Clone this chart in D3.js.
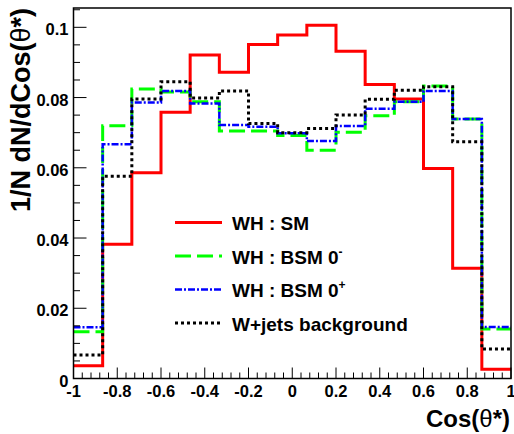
<!DOCTYPE html>
<html><head><meta charset="utf-8">
<script src="https://cdn.jsdelivr.net/npm/d3@7"></script>
<style>body{margin:0;background:#fff}svg{display:block}</style>
</head><body><svg id="c" width="514" height="434"></svg>
<script>
// Bin edges (15 bins over [-1,1])
const binEdges = [-1, -0.8667, -0.7333, -0.6, -0.4667, -0.3333, -0.2, -0.0667, 0.0667, 0.2, 0.3333, 0.4667, 0.6, 0.7333, 0.8667, 1];
const smValues   = [0.0036, 0.0382, 0.0586, 0.0758, 0.0921, 0.0872, 0.0951, 0.0978, 0.1006, 0.0932, 0.0837, 0.0796, 0.0598, 0.0314, 0.0026];
const bsmMinus   = [0.0133, 0.0720, 0.0824, 0.0816, 0.0788, 0.0705, 0.0705, 0.0692, 0.0650, 0.0701, 0.0748, 0.0788, 0.0833, 0.0739, 0.0141];
const bsmPlus    = [0.0146, 0.0667, 0.0786, 0.0819, 0.0783, 0.0722, 0.0717, 0.0698, 0.0676, 0.0719, 0.0768, 0.0788, 0.0819, 0.0739, 0.0147];
const wjets      = [0.0067, 0.0576, 0.0796, 0.0845, 0.0799, 0.0819, 0.0726, 0.0700, 0.0712, 0.0750, 0.0795, 0.0821, 0.0831, 0.0674, 0.0084];
const xTicks = [-1, -0.8, -0.6, -0.4, -0.2, 0, 0.2, 0.4, 0.6, 0.8, 1];
const xTickLabels = ["-1", "-0.8", "-0.6", "-0.4", "-0.2", "0", "0.2", "0.4", "0.6", "0.8", "1"];
const yTicks = [0, 0.02, 0.04, 0.06, 0.08, 0.1];
const yTickLabels = ["0", "0.02", "0.04", "0.06", "0.08", "0.1"];
const legendLabels = [["WH : SM", ""], ["WH : BSM 0", "-"], ["WH : BSM 0", "+"], ["W+jets background", ""]];

const svg = d3.select("#c");
const L = 73.5, R = 511, T = 8, B = 378.5;
const x = d3.scaleLinear().domain([-1, 1]).range([L, R]);
const y = d3.scaleLinear().domain([0, 0.1055]).range([B, T]);
const FONT = "'Liberation Sans', Arial, Helvetica, sans-serif";

const series = [
  {vals: smValues, color: "#ff0000", width: 3, dash: null},
  {vals: bsmMinus, color: "#00ff00", width: 3, dash: "16,6"},
  {vals: bsmPlus, color: "#0000ff", width: 2.5, dash: "7,2,2,2"},
  {vals: wjets, color: "#000000", width: 3, dash: "3,3"}
];

const line = d3.line().x(d => x(d[0])).y(d => y(d[1]));
series.forEach(s => {
  const pts = [];
  s.vals.forEach((v, i) => { pts.push([binEdges[i], v]); pts.push([binEdges[i + 1], v]); });
  svg.append("path").attr("d", line(pts)).attr("fill", "none")
    .attr("stroke", s.color).attr("stroke-width", s.width)
    .attr("stroke-dasharray", s.dash).attr("stroke-linejoin", "miter");
});

// Frame
svg.append("rect").attr("x", L).attr("y", T).attr("width", R - L).attr("height", B - T)
  .attr("fill", "none").attr("stroke", "#000").attr("stroke-width", 1.5);

// X axis ticks (inward, upward)
const xMinor = d3.range(-1, 1.0001, 0.04);
svg.append("g").selectAll("line").data(xMinor).join("line")
  .attr("x1", d => x(d)).attr("x2", d => x(d))
  .attr("y1", B).attr("y2", (d) => {
    const isMajor = Math.abs(Math.round(d * 5) - d * 5) < 1e-6;
    return B - (isMajor ? 11 : 6);
  }).attr("stroke", "#000").attr("stroke-width", 1);
svg.append("g").selectAll("text").data(xTicks).join("text")
  .attr("x", d => x(d)).attr("y", 396.5).attr("text-anchor", "middle")
  .attr("font-family", FONT).attr("font-weight", "bold").attr("font-size", 16.5)
  .text((d, i) => xTickLabels[i]);

// Y axis ticks (inward, rightward)
const yMinor = d3.range(0, 0.1051, 0.005);
svg.append("g").selectAll("line").data(yMinor).join("line")
  .attr("y1", d => y(d)).attr("y2", d => y(d))
  .attr("x1", L).attr("x2", d => {
    const isMajor = Math.abs(Math.round(d * 50) - d * 50) < 1e-6;
    return L + (isMajor ? 13 : 6.5);
  }).attr("stroke", "#000").attr("stroke-width", 1);
svg.append("g").selectAll("text").data(yTicks).join("text")
  .attr("x", 68.5).attr("y", d => y(d) + 8).attr("text-anchor", "end")
  .attr("font-family", FONT).attr("font-weight", "bold").attr("font-size", 16.5)
  .text((d, i) => yTickLabels[i]);

// Axis titles
const xt = svg.append("text").attr("x", 510).attr("y", 427).attr("text-anchor", "end")
  .attr("font-family", FONT).attr("font-weight", "bold").attr("font-size", 24);
xt.append("tspan").text("Cos(");
xt.append("tspan").attr("font-weight", "normal").text("θ");
xt.append("tspan").text("*)");

const yt = svg.append("text").attr("transform", "translate(30,8) rotate(-90)")
  .attr("text-anchor", "end")
  .attr("font-family", FONT).attr("font-weight", "bold").attr("font-size", 27);
yt.append("tspan").text("1/N dN/dCos(");
yt.append("tspan").attr("font-weight", "normal").text("θ");
yt.append("tspan").text("*)");

// Legend
const legRowsY = [222.5, 256, 289.5, 323];
series.forEach((s, i) => {
  svg.append("line").attr("x1", 175).attr("x2", 222).attr("y1", legRowsY[i]).attr("y2", legRowsY[i])
    .attr("stroke", s.color).attr("stroke-width", s.width).attr("stroke-dasharray", s.dash);
  const t = svg.append("text").attr("x", 232).attr("y", legRowsY[i] + 7.5)
    .attr("font-family", FONT).attr("font-weight", "bold").attr("font-size", 19);
  t.append("tspan").text(legendLabels[i][0]);
  if (legendLabels[i][1]) {
    t.append("tspan").attr("font-size", 12).attr("dy", -8).text(legendLabels[i][1]);
  }
});
</script></body></html>
